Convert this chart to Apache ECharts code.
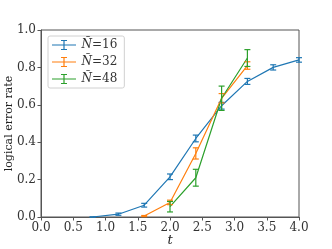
<!DOCTYPE html>
<html><head><meta charset="utf-8">
<script src="https://cdn.jsdelivr.net/npm/echarts@6/dist/echarts.min.js"></script>
<style>html,body{margin:0;padding:0;background:#fff}#c{width:332px;height:249px}</style>
</head><body><div id="c"></div>
<script>
// Data
const xN16 = [0.8, 1.2, 1.6, 2.0, 2.4, 2.8, 3.2, 3.6, 4.0];
const yN16 = [0.0, 0.015, 0.063, 0.215, 0.42, 0.595, 0.725, 0.80, 0.84];
const eN16 = [0.0, 0.006, 0.01, 0.015, 0.018, 0.018, 0.016, 0.014, 0.012];
const xN32 = [1.6, 2.0, 2.4, 2.8, 3.2];
const yN32 = [0.005, 0.078, 0.34, 0.635, 0.81];
const eN32 = [0.003, 0.012, 0.03, 0.025, 0.02];
const xN48 = [2.0, 2.4, 2.8, 3.2];
const yN48 = [0.055, 0.21, 0.635, 0.85];
const eN48 = [0.028, 0.045, 0.065, 0.045];
const seriesNames = ['16', '32', '48'];
const colors = ['#1f77b4', '#ff7f0e', '#2ca02c'];
const xTicks = [0, 0.5, 1, 1.5, 2, 2.5, 3, 3.5, 4];
const yTicks = [0, 0.2, 0.4, 0.6, 0.8, 1.0];

const sets = [[xN16, yN16, eN16], [xN32, yN32, eN32], [xN48, yN48, eN48]];
const font = 'DejaVu Serif';
const legendIcon = 'path://M0,4.4h24v1.2h-24z M11.4,0h1.2v10h-1.2z M9,0h6v1.1h-6z M9,8.9h6v1.1h-6z';

const series = [];
sets.forEach((s, i) => {
  const name = 'N' + seriesNames[i];
  series.push({
    name: name, type: 'line', data: s[0].map((x, k) => [x, s[1][k]]),
    showSymbol: false, symbol: 'none', lineStyle: {color: colors[i], width: 1.2},
    itemStyle: {color: colors[i]}, z: 3
  });
  series.push({
    name: name, type: 'custom',
    data: s[0].map((x, k) => [x, s[1][k] - s[2][k], s[1][k] + s[2][k]]),
    renderItem: function (params, api) {
      const x = api.value(0);
      const lo = api.coord([x, api.value(1)]);
      const hi = api.coord([x, api.value(2)]);
      const hw = 3;
      const st = {stroke: colors[i], lineWidth: 1.2};
      return {type: 'group', children: [
        {type: 'line', shape: {x1: lo[0], y1: lo[1], x2: hi[0], y2: hi[1]}, style: st},
        {type: 'line', shape: {x1: lo[0]-hw, y1: lo[1], x2: lo[0]+hw, y2: lo[1]}, style: st},
        {type: 'line', shape: {x1: hi[0]-hw, y1: hi[1], x2: hi[0]+hw, y2: hi[1]}, style: st}
      ]};
    },
    itemStyle: {color: colors[i]}, z: 4, clip: false
  });
});

const chart = echarts.init(document.getElementById('c'), null, {renderer: 'canvas'});
chart.setOption({
  animation: false,
  textStyle: {fontFamily: font},
  grid: {left: 41, right: 33, top: 30, bottom: 32, containLabel: false, outerBoundsMode: 'none',
         show: true, borderColor: '#555', borderWidth: 1, backgroundColor: 'transparent'},
  legend: {
    data: seriesNames.map(n => ({name: 'N' + n, icon: legendIcon})),
    orient: 'vertical', left: 48, top: 36,
    itemWidth: 25, itemHeight: 10, itemGap: 5,
    padding: [3, 7, 3, 4],
    backgroundColor: 'rgba(255,255,255,0.8)', borderColor: '#d0d0d0', borderWidth: 1, borderRadius: 2,
    formatter: function (n) { return '{i|Ñ}{n|=' + n.slice(1) + '}'; },
    textStyle: {
      color: '#333', fontFamily: font,
      rich: {i: {fontStyle: 'italic', fontFamily: font, fontSize: 12, color: '#333', lineHeight: 12},
             n: {fontFamily: font, fontSize: 12, color: '#333', lineHeight: 12}}
    }
  },
  xAxis: {
    type: 'value', min: 0, max: 4, interval: 0.5,
    name: 't', nameLocation: 'middle', nameGap: 17, nameMoveOverlap: false,
    nameTextStyle: {fontFamily: font, fontStyle: 'italic', fontSize: 13, color: '#222'},
    axisLine: {show: true, lineStyle: {color: '#555', width: 1}},
    axisTick: {show: true, length: 3.5, lineStyle: {color: '#555'}},
    axisLabel: {fontFamily: font, fontSize: 12, color: '#333', margin: 5, formatter: v => v.toFixed(1)},
    splitLine: {show: false}
  },
  yAxis: {
    type: 'value', min: 0, max: 1, interval: 0.2,
    name: 'logical error rate', nameLocation: 'middle', nameGap: 26, nameRotate: 90, nameMoveOverlap: false,
    nameTextStyle: {fontFamily: font, fontSize: 11, color: '#222'},
    axisLine: {show: true, lineStyle: {color: '#555', width: 1}},
    axisTick: {show: true, length: 3.5, lineStyle: {color: '#555'}},
    axisLabel: {fontFamily: font, fontSize: 12, color: '#333', margin: 5, formatter: v => v.toFixed(1)},
    splitLine: {show: false}
  },
  series: series
});
</script></body></html>
